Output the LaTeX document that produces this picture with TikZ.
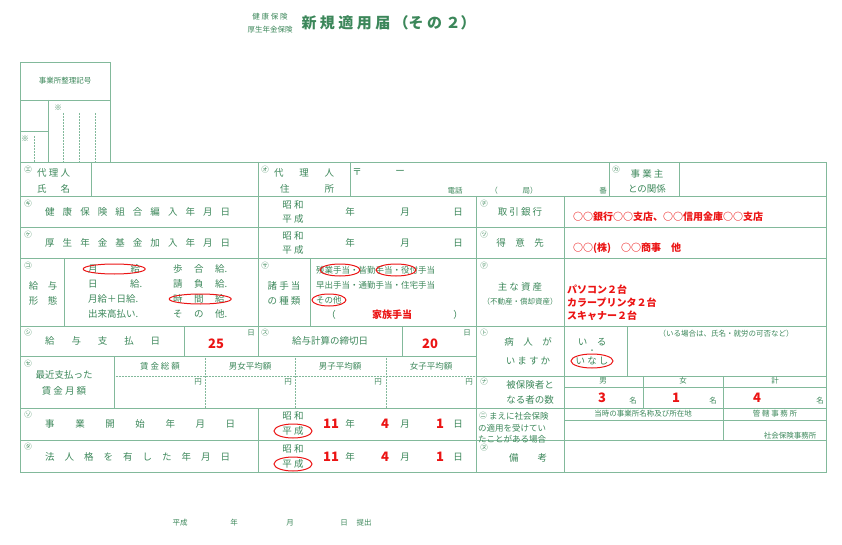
\documentclass[tikz,border=0pt]{standalone}
\usepackage{fontspec}
\setmainfont{Noto Sans CJK JP}
\usetikzlibrary{positioning}
\definecolor{formline}{RGB}{130,185,155}
\definecolor{formtext}{RGB}{60,135,90}
\definecolor{inkred}{RGB}{235,20,20}
\newcommand{\spread}[2]{\makebox[#1][s]{#2}}
\tikzset{
  grid/.style={draw=formline, line width=0.7pt},
  dotgrid/.style={draw=formline, line width=0.5pt, densely dotted},
  lbl/.style={text=formtext, font=\fontsize{9.5}{10}\selectfont, inner sep=0pt},
  small/.style={text=formtext, font=\fontsize{7.5}{8}\selectfont, inner sep=0pt},
  tag/.style={text=formtext, font=\fontsize{7.5}{8}\selectfont, inner sep=0pt},
  val/.style={text=inkred, font=\fontsize{10}{11}\selectfont\bfseries, inner sep=0pt},
  ring/.style={draw=inkred, line width=1pt},
}
\begin{document}
\begin{tikzpicture}[x=1pt, y=-1pt]
    \useasboundingbox (0,0) rectangle (842,545);
    % Title
    \node[small] (hk) at (270,17) {健 康 保 険};
    \node[small] (kn) at (270,30) {厚生年金保険};
    \node[text=formtext, font=\fontsize{15}{16}\selectfont\bfseries, anchor=west] (title) at (298,23) {新 規 適 用 届 （そ の ２）};

    % Office number box
    \draw[grid] (20,62) rectangle (110,162);
    \draw[grid] (20,100) -- (110,100) (48,100) -- (48,162) (20,131) -- (48,131);
    \draw[dotgrid] (63,113) -- (63,162) (79,113) -- (79,162) (95,113) -- (95,162) (34,136) -- (34,162);
    \node[small] (code) at (65,81) {事業所整理記号};
    \node[small] (ast1) at (58,108) {※};
    \node[small] (ast2) at (25,139) {※};

    % Main table
    \draw[grid] (20,162) rectangle (826,472);
    \foreach \y in {196,227,258,326,408,440}
        \draw[grid] (20,\y) -- (826,\y);
    \draw[grid] (20,356) -- (476,356);
    \draw[grid] (91,162) -- (91,196) (258,162) -- (258,356) (350,162) -- (350,196)
                (609,162) -- (609,196) (679,162) -- (679,196);
    \draw[grid] (476,196) -- (476,472) (564,196) -- (564,472) (258,408) -- (258,472);
    \draw[grid] (64,258) -- (64,326) (310,258) -- (310,326);
    \draw[grid] (184,326) -- (184,356) (402,326) -- (402,356) (627,326) -- (627,376) (476,376) -- (826,376);
    \draw[grid] (114,356) -- (114,408);
    \draw[dotgrid] (114,376) -- (476,376) (205,356) -- (205,408) (295,356) -- (295,408) (386,356) -- (386,408);
    \draw[grid] (564,387) -- (826,387) (643,376) -- (643,408) (723,376) -- (723,440) (564,420) -- (826,420);

    % Row 1
    \node[tag] (m1) at (28,170) {㋓};
    \node[lbl, anchor=west] (a1) at (37,173) {\spread{33pt}{代 理 人}};
    \node[lbl, anchor=west] (a2) at (37,189) {\spread{33pt}{氏 名}};
    \node[tag] (m2) at (265,170) {㋔};
    \node[lbl, anchor=west] (b1) at (274,173) {\spread{60pt}{代 理 人}};
    \node[lbl, anchor=west] (b2) at (280,189) {\spread{54pt}{住 所}};
    \node[lbl] (zip) at (357,172) {〒};
    \node[lbl] (zipd) at (400,172) {ー};
    \node[small] (tel) at (455,191) {電話};
    \node[small] (tel2) at (494,191) {（};
    \node[small] (tel3) at (530,191) {局）};
    \node[small] (tel4) at (603,191) {番};
    \node[tag] (m3) at (616,170) {㋕};
    \node[lbl] (c1) at (647,174) {事 業 主};
    \node[lbl] (c2) at (647,189) {との関係};

    % Rows 2 and 3
    \node[tag] (m4) at (28,204) {㋖};
    \node[lbl, anchor=west] (d1) at (45,212) {\spread{185pt}{健 康 保 険 組 合 編 入 年 月 日}};
    \node[tag] (m5) at (28,235) {㋘};
    \node[lbl, anchor=west] (e1) at (45,243) {\spread{185pt}{厚 生 年 金 基 金 加 入 年 月 日}};
    \foreach \y/\n in {212/d, 243/e} {
        \node[lbl] (\n sh) at (293,\y-7) {昭 和};
        \node[lbl] (\n hs) at (293,\y+7) {平 成};
        \node[lbl] (\n yr) at (350,\y) {年};
        \node[lbl] (\n mo) at (405,\y) {月};
        \node[lbl] (\n dy) at (458,\y) {日};
    }
    \node[tag] (m6) at (484,204) {㋠};
    \node[lbl] (f1) at (520,212) {取 引 銀 行};
    \node[val, anchor=west] (f2) at (573,217) {○○銀行○○支店、○○信用金庫○○支店};
    \node[tag] (m7) at (484,235) {㋡};
    \node[lbl] (g1) at (520,243) {得\quad 意\quad 先};
    \node[val, anchor=west] (g2) at (573,248) {○○(株)\quad ○○商事\quad 他};

    % Row 4
    \node[tag] (m8) at (28,266) {㋙};
    \node[lbl] (h1) at (43,286) {給\quad 与};
    \node[lbl] (h2) at (43,301) {形\quad 態};
    \node[lbl, anchor=west] (h3) at (88,269) {\spread{52pt}{月 給}};
    \node[lbl, anchor=west] (h4) at (88,284) {\spread{54pt}{日 給.}};
    \node[lbl, anchor=west] (h5) at (88,299) {月給＋日給.};
    \node[lbl, anchor=west] (h6) at (88,314) {出来高払い.};
    \node[lbl, anchor=west] (h7) at (173,269) {\spread{54pt}{歩 合 給.}};
    \node[lbl, anchor=west] (h8) at (173,284) {\spread{54pt}{請 負 給.}};
    \node[lbl, anchor=west] (h9) at (173,299) {\spread{54pt}{時 間 給.}};
    \node[lbl, anchor=west] (h10) at (173,314) {\spread{54pt}{そ の 他.}};
    \node[tag] (m9) at (265,266) {㋚};
    \node[lbl] (i1) at (284,286) {諸 手 当};
    \node[lbl] (i2) at (284,301) {の 種 類};
    \node[small, font=\fontsize{8.5}{9}\selectfont, anchor=west] (i3) at (316,270) {残業手当・皆勤手当・役付手当};
    \node[small, font=\fontsize{8.5}{9}\selectfont, anchor=west] (i4) at (316,285) {早出手当・通勤手当・住宅手当};
    \node[small, font=\fontsize{8.5}{9}\selectfont, anchor=west] (i5) at (316,300) {その他};
    \node[lbl] (i6) at (331,315) {（};
    \node[lbl] (i7) at (458,315) {）};
    \node[val] (i8) at (392,315) {家族手当};
    \node[tag] (m10) at (484,266) {㋢};
    \node[lbl] (j1) at (520,287) {主 な 資 産};
    \node[small] (j2) at (520,302) {（不動産・償却資産）};
    \node[val, anchor=west] (j3) at (567,290) {パソコン２台};
    \node[val, anchor=west] (j4) at (567,303) {カラープリンタ２台};
    \node[val, anchor=west] (j5) at (567,316) {スキャナー２台};

    % Row 5
    \node[tag] (m11) at (28,333) {㋛};
    \node[lbl, anchor=west] (k1) at (45,341) {\spread{115pt}{給 与 支 払 日}};
    \node[small] (k2) at (251,333) {日};
    \node[val, font=\fontsize{13}{14}\selectfont\bfseries] (k3) at (216,344) {25};
    \node[tag] (m12) at (265,333) {㋜};
    \node[lbl] (l1) at (330,341) {給与計算の締切日};
    \node[small] (l2) at (467,333) {日};
    \node[val, font=\fontsize{13}{14}\selectfont\bfseries] (l3) at (430,344) {20};
    \node[tag] (m13) at (484,333) {㋣};
    \node[lbl] (n1) at (528,342) {病\quad 人\quad が};
    \node[lbl] (n2) at (528,361) {い ま す か};
    \node[lbl] (n3) at (592,342) {い\quad る};
    \node[small] (n4) at (592,352) {・};
    \node[lbl] (n5) at (592,361) {い な し};
    \node[small] (n6) at (726,334) {（いる場合は、氏名・就労の可否など）};

    % Row 6
    \node[tag] (m14) at (28,364) {㋝};
    \node[lbl] (o1) at (64,375) {最近支払った};
    \node[lbl] (o2) at (64,391) {賃 金 月 額};
    \foreach \x/\t/\n in {160/賃 金 総 額/1, 250/男女平均額/2, 340/男子平均額/3, 431/女子平均額/4} {
        \node[small, font=\fontsize{8.5}{9}\selectfont] (w\n) at (\x,366) {\t};
        \node[small] (y\n) at (\x+38,382) {円};
    }
    \node[tag] (m15) at (484,382) {㋤};
    \node[lbl] (p1) at (530,385) {被保険者と};
    \node[lbl] (p2) at (530,400) {なる者の数};
    \node[small] (p3) at (603,381) {男};
    \node[small] (p4) at (683,381) {女};
    \node[small] (p5) at (775,381) {計};
    \foreach \x/\v/\n in {602/3/a, 676/1/b, 757/4/c} {
        \node[val, font=\fontsize{13}{14}\selectfont\bfseries] (q\n) at (\x,398) {\v};
    }
    \foreach \x/\n in {633/a, 713/b, 820/c}
        \node[small] (r\n) at (\x,401) {名};

    % Rows 7 and 8
    \node[tag] (m16) at (28,415) {㋞};
    \node[lbl, anchor=west] (s1) at (45,424) {\spread{190pt}{事 業 開 始 年 月 日}};
    \node[tag] (m17) at (28,447) {㋟};
    \node[lbl, anchor=west] (t1) at (45,457) {\spread{185pt}{法 人 格 を 有 し た 年 月 日}};
    \foreach \y/\n in {424/s, 457/t} {
        \node[lbl] (\n sh) at (293,\y-8) {昭 和};
        \node[lbl] (\n hs) at (293,\y+7) {平 成};
        \node[val, font=\fontsize{13}{14}\selectfont\bfseries] (\n a) at (331,\y) {11};
        \node[lbl] (\n yr) at (350,\y) {年};
        \node[val, font=\fontsize{13}{14}\selectfont\bfseries] (\n b) at (385,\y) {4};
        \node[lbl] (\n mo) at (405,\y) {月};
        \node[val, font=\fontsize{13}{14}\selectfont\bfseries] (\n c) at (440,\y) {1};
        \node[lbl] (\n dy) at (458,\y) {日};
        \draw[ring] (\n hs) ellipse (19pt and 7pt);
    }
    \node[tag] (m18) at (483,416) {㋥};
    \node[small, font=\fontsize{8.5}{9}\selectfont, anchor=west] (u1) at (489,416) {まえに社会保険};
    \node[small, font=\fontsize{8.5}{9}\selectfont, anchor=west] (u2) at (478,428) {の適用を受けてい};
    \node[small, font=\fontsize{8.5}{9}\selectfont, anchor=west] (u3) at (478,439) {たことがある場合};
    \node[small] (u4) at (643,414) {当時の事業所名称及び所在地};
    \node[small] (u5) at (775,414) {管 轄 事 務 所};
    \node[small] (u6) at (790,436) {社会保険事務所};
    \node[tag] (m19) at (484,448) {㋦};
    \node[lbl] (v1) at (528,458) {備\qquad 考};

    % Circled choices
    \draw[ring] (h3) ellipse (31pt and 5pt);
    \draw[ring] (h9) ellipse (31pt and 5pt);
    \draw[ring] (340,270) ellipse (20pt and 6pt);
    \draw[ring] (396,270) ellipse (20pt and 6pt);
    \draw[ring] (i5) ellipse (17pt and 6pt);
    \draw[ring] (n5) ellipse (21pt and 7pt);

    % Submission date
    \node[small] (z1) at (180,523) {平成};
    \node[small] (z2) at (234,523) {年};
    \node[small] (z3) at (290,523) {月};
    \node[small] (z4) at (344,523) {日};
    \node[small] (z5) at (364,523) {提出};
\end{tikzpicture}
\end{document}
